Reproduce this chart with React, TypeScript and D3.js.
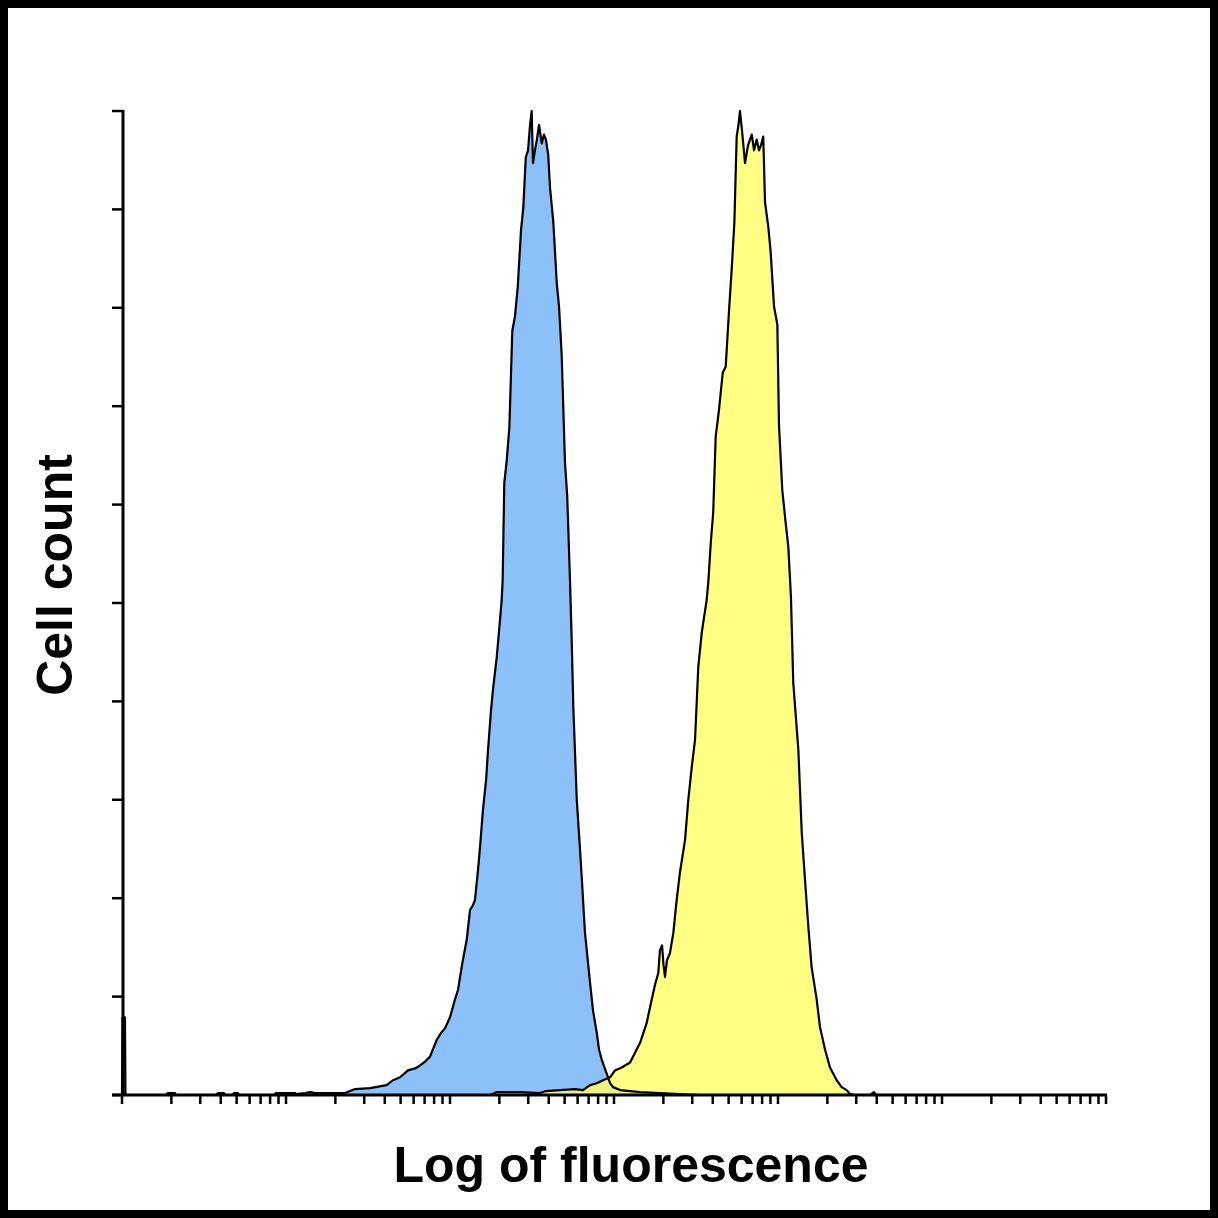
import React from 'react';
import * as d3 from 'd3';

// log10 of fluorescence and cell count (% of max) for the blue (control) histogram
const blueLog = [
  0.0, 0.003, 0.018, 0.021, 0.268, 0.28, 0.323, 0.329, 0.573, 0.585, 0.622, 0.628,
  0.671, 0.683, 0.707, 0.713, 0.927, 0.939, 1.055, 1.061, 1.116, 1.146, 1.177, 1.238,
  1.36, 1.421, 1.512, 1.614, 1.652, 1.695, 1.744, 1.787, 1.817, 1.848, 1.878, 1.919,
  1.945, 1.97, 2.0, 2.03, 2.049, 2.073, 2.102, 2.122, 2.14, 2.152, 2.171, 2.183,
  2.201, 2.22, 2.232, 2.25, 2.262, 2.285, 2.305, 2.315, 2.321, 2.331, 2.346, 2.362,
  2.38, 2.396, 2.413, 2.433, 2.447, 2.462, 2.476, 2.488, 2.498, 2.506, 2.518, 2.53,
  2.543, 2.559, 2.573, 2.585, 2.599, 2.61, 2.63, 2.651, 2.665, 2.681, 2.701, 2.715,
  2.732, 2.742, 2.752, 2.773, 2.793, 2.803, 2.823, 2.854, 2.872, 2.895, 2.909, 2.925,
  2.955, 2.976, 2.994, 3.037, 3.159, 3.28, 3.402, 3.524,
];
const blueCount = [
  0, 7.9, 7.9, 0, 0, 0.2, 0.2, 0, 0, 0.2, 0.2, 0,
  0, 0.2, 0.2, 0, 0, 0.2, 0.2, 0.1, 0.2, 0.3, 0.2, 0.2,
  0.2, 0.6, 0.7, 1.0, 1.5, 1.8, 2.5, 2.7, 3.0, 3.4, 3.9, 5.6,
  6.3, 6.8, 7.9, 9.7, 10.7, 13.2, 15.8, 18.8, 19.3, 19.8, 22.9, 25.2,
  29.0, 32.0, 35.1, 39.1, 41.2, 44.5, 48.3, 50.3, 52.3, 62.2, 64.5, 67.9,
  77.7, 79.1, 82.1, 87.9, 90.2, 95.3, 96.0, 98.6, 100, 94.7, 96.0, 97.1,
  98.6, 96.7, 97.6, 97.1, 95.5, 92.2, 88.7, 82.5, 80.1, 75.2, 64.3, 60.8,
  52.1, 46.2, 39.4, 30.0, 24.9, 22.2, 16.5, 11.4, 8.6, 6.3, 4.6, 3.6,
  2.2, 1.2, 0.8, 0.5, 0.3, 0.2, 0.1, 0,
];

// log10 of fluorescence and cell count (% of max) for the yellow (stained) histogram
const yellowLog = [
  2.244, 2.287, 2.427, 2.549, 2.585, 2.671, 2.762, 2.811, 2.854, 2.895, 2.933, 2.976,
  3.006, 3.047, 3.098, 3.128, 3.159, 3.199, 3.23, 3.25, 3.27, 3.28, 3.293, 3.302,
  3.311, 3.323, 3.341, 3.362, 3.382, 3.402, 3.433, 3.453, 3.474, 3.494, 3.514, 3.535,
  3.565, 3.575, 3.59, 3.605, 3.62, 3.64, 3.663, 3.681, 3.701, 3.718, 3.734, 3.748,
  3.759, 3.768, 3.78, 3.799, 3.817, 3.84, 3.854, 3.87, 3.884, 3.896, 3.91, 3.921,
  3.941, 3.955, 3.976, 3.996, 4.006, 4.026, 4.047, 4.063, 4.079, 4.093, 4.124, 4.145,
  4.165, 4.185, 4.205, 4.236, 4.256, 4.287, 4.317, 4.358, 4.388, 4.419, 4.439, 4.47,
  4.561, 4.585, 4.598,
];
const yellowCount = [
  0, 0.3, 0.3, 0.2, 0.4, 0.5, 0.6, 0.5, 1.0, 1.2, 1.5, 1.8,
  2.5, 2.8, 3.3, 4.3, 5.3, 7.3, 9.7, 11.2, 12.4, 14.7, 15.2, 13.2,
  12.0, 13.7, 14.4, 16.5, 19.8, 22.6, 25.9, 30.0, 33.3, 36.1, 43.5, 47.0,
  50.3, 52.1, 56.1, 59.2, 66.9, 69.6, 73.4, 74.0, 79.6, 84.0, 88.7, 97.4,
  98.6, 100, 98.1, 94.7, 96.5, 97.6, 96.0, 97.1, 96.0, 96.5, 97.4, 90.7,
  88.2, 85.7, 80.1, 78.3, 68.1, 61.5, 58.1, 55.7, 50.6, 41.9, 35.1, 26.6,
  21.8, 17.1, 13.0, 9.7, 6.9, 4.6, 2.8, 1.5, 0.8, 0.5, 0.1, 0,
  0, 0.3, 0,
];

const yTicks = [0, 10, 20, 30, 40, 50, 60, 70, 80, 90, 100];

const W = 1218;
const H = 1218;
const font = '"Liberation Sans", Arial, sans-serif';

type Pt = { v: number; c: number };

const toPoints = (logs: number[], counts: number[]): Pt[] =>
  logs.map((l, i) => ({ v: Math.pow(10, l), c: counts[i] }));

const App: React.FC = () => {
  const x = d3.scaleLog().domain([1, 1e6]).range([122, 1106]);
  const y = d3.scaleLinear().domain([0, 100]).range([1095, 111]);

  const area = d3.area<Pt>().x(d => x(d.v)).y0(y(0)).y1(d => y(d.c));
  const line = d3.line<Pt>().x(d => x(d.v)).y(d => y(d.c));

  const blue = toPoints(blueLog, blueCount);
  const yellow = toPoints(yellowLog, yellowCount);

  return (
    <div style={{ position: 'absolute', left: 0, top: 0 }}>
      <svg width={W} height={H} style={{ display: 'block' }}>
        <rect x={4} y={4} width={W - 8} height={H - 8} fill="#fff" stroke="#000" strokeWidth={8} />

        {/* histograms */}
        <path d={area(blue) || ''} fill="#8cc0f8" />
        <path d={area(yellow) || ''} fill="#ffff64" fillOpacity={0.8} />
        <path d={line(blue) || ''} fill="none" stroke="#000" strokeWidth={2.2} strokeLinejoin="round" />
        <path d={line(yellow) || ''} fill="none" stroke="#000" strokeWidth={2.2} strokeLinejoin="round" />

        {/* y axis */}
        <line x1={123} x2={123} y1={y(100) - 1} y2={y(0)} stroke="#000" strokeWidth={3} />
        {yTicks.map(t => (
          <line key={t} x1={112} x2={123} y1={y(t)} y2={y(t)} stroke="#000" strokeWidth={2.5} />
        ))}

        {/* x axis */}
        <line x1={112} x2={x(1e6) + 1} y1={1095} y2={1095} stroke="#000" strokeWidth={3} />
        {x.ticks().map((t, i) => (
          <line key={i} x1={x(t)} x2={x(t)} y1={1095} y2={1104} stroke="#000" strokeWidth={2.5} />
        ))}

        {/* labels */}
        <text
          x={631}
          y={1182}
          textAnchor="middle"
          fontFamily={font}
          fontWeight="bold"
          fontSize={50}
        >
          Log of fluorescence
        </text>
        <text
          transform="translate(72,575) rotate(-90)"
          textAnchor="middle"
          fontFamily={font}
          fontWeight="bold"
          fontSize={50}
        >
          Cell count
        </text>
      </svg>
    </div>
  );
};

export default App;
